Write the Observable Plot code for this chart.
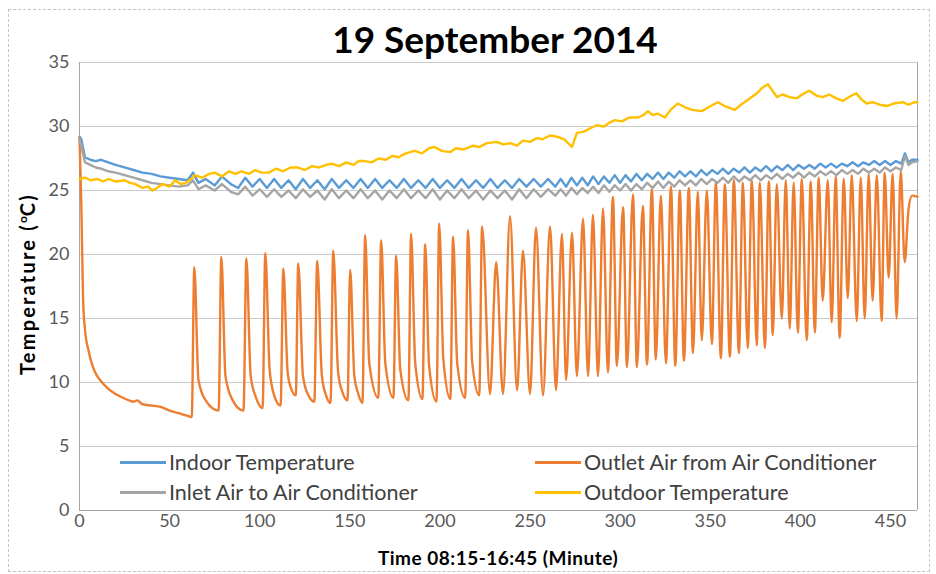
<!DOCTYPE html>
<html><head><meta charset="utf-8">
<script src="https://cdn.jsdelivr.net/npm/d3@7"></script>
<script src="https://cdn.jsdelivr.net/npm/@observablehq/plot@0.6"></script>
<style>
body{margin:0;background:#fff;}
#wrap{position:relative;width:936px;height:574px;font-family:Lato,"Open Sans",sans-serif;overflow:hidden;}
#chart{position:absolute;left:0;top:0;}
#border{position:absolute;left:8px;top:9px;width:922px;height:563px;border:1px dashed #c4c4c4;box-sizing:border-box;pointer-events:none;}
#title{position:absolute;left:495px;top:17px;transform:translateX(-50%);font-weight:700;font-size:37px;color:#000;white-space:nowrap;line-height:1.2;}
#ytitle{position:absolute;left:27px;top:284px;transform:translate(-50%,-50%) rotate(-90deg);font-weight:700;font-size:20px;letter-spacing:2.2px;white-space:nowrap;color:#000;line-height:1.2;}
#ytitle sup{font-size:12px;letter-spacing:0;}
#xtitle{position:absolute;left:498px;top:547px;transform:translateX(-50%);font-weight:700;font-size:19px;letter-spacing:0.5px;white-space:nowrap;color:#000;line-height:1.15;}
.leg{position:absolute;font-size:21.5px;color:#404040;white-space:nowrap;display:flex;align-items:center;line-height:1.2;}
.leg span.sw{display:inline-block;width:46px;height:3px;margin-right:3px;}
</style></head>
<body>
<div id="wrap">
  <div id="chart"></div>
  <div id="border"></div>
  <div id="title">19 September 2014</div>
  <div id="ytitle">Temperature (<sup>o</sup>C)</div>
  <div id="xtitle">Time 08:15-16:45 (Minute)</div>
  <div id="legend"></div>
</div>
<script>
// ---- Series names and colours ----
const seriesNames = ["Indoor Temperature", "Outlet Air from Air Conditioner", "Inlet Air to Air Conditioner", "Outdoor Temperature"];
const seriesColors = ["#5B9BD5", "#ED7D31", "#A5A5A5", "#FFC000"];

// ---- Axis ticks ----
const xTicks = [0, 50, 100, 150, 200, 250, 300, 350, 400, 450];
const yTicks = [0, 5, 10, 15, 20, 25, 30, 35];

// ---- Outlet air (orange): turning points ----
const outletTime = [
  0,1,2,3,5,7,9,12,16,20,25,30,32,35,40,45,50,55,60,62.3,
  63.7,66,70,77.2, 78.7,81,85,91, 92.6,95,98,101.6, 103.1,105.5,108,111.6,
  113.1,115.5,117.5,120, 121.4,124,127,130.3, 131.9,134.5,136.8,139.3,
  140.8,143.5,146,148.7, 150.2,152.5,154.5,157,
  158.5,160.8,165.8, 167.4,169.7,174.2, 175.7,178,182.5, 184.0,186.3,190.3,
  191.8,194,198.1, 199.6,201.9,205.8, 207.3,209.6,214, 215.6,217.9,221.8,
  223.4,227.8, 231.2,235, 238.9,242.8, 246.1,250, 253.3,257.2, 261.1,264.4,
  267.7,270, 273.3,276, 279.4,282.2, 284.9,287.7, 290.5,293.2, 296.0,298.2,
  301.6,303.8, 307.1,309.3, 312.6,314.9, 317.6,319.8, 322.6,325.4, 328.2,330.6,
  333.1,335.4, 338.1,340.4, 343.1,345.3, 348.1,350.9, 353.1,355.9, 358.1,360.9,
  363.1,365.9, 368.1,370.8, 373.1,375.8, 377.5,380.3, 382.5,384.7, 386.9,389.7,
  391.9,394.1, 396.3,398.6, 400.8,403.5, 405.8,408, 410.2,412.4, 415.2,417.4,
  419.6,421.8, 424.1,426.3, 428.5,431.3, 433.5,435.7, 437.9,440.1, 442.4,445.1,
  446.8,449, 451.2,453.4, 455.7,457.9, 460,462,465
];
const outletTemp = [
  29.1,24.0,16.4,14.2,12.5,11.4,10.7,10.1,9.5,9.1,8.75,8.5,8.6,8.3,8.2,8.1,7.8,7.6,7.4,7.3,
  19.0,10.2,8.6,7.8, 19.8,10.5,8.6,7.8, 19.7,10.5,8.8,8.0, 20.1,11.0,9.0,8.2,
  18.9,10.8,9.5,9.0, 19.3,10.5,9.0,8.5, 19.5,10.5,9.0,8.4,
  20.3,10.8,9.2,8.6, 18.8,10.5,9.2,8.4,
  21.5,11.5,8.8, 21.1,11.5,8.8, 19.9,11.0,8.6, 21.6,11.5,8.7,
  20.8,11.3,8.5, 22.4,11.8,8.7, 21.4,11.5,8.8, 21.9,11.6,9.0,
  22.2,9.1, 19.4,9.1, 23.0,9.4, 20.3,9.1, 22.1,9.0, 22.2,9.4,
  21.6,10.2, 21.7,10.5, 22.8,10.5, 23.1,10.5, 23.6,10.8, 24.5,11.3,
  23.7,11.2, 24.7,11.2, 23.8,11.4, 25.1,11.8, 24.6,11.5, 25.3,11.3,
  25.0,11.7, 25.2,12.3, 24.9,13.3, 25.0,13.0, 25.6,11.9, 25.5,12.0,
  25.8,12.3, 25.6,12.7, 25.8,12.9, 25.6,12.7, 25.7,13.7, 25.5,15.0,
  25.8,14.2, 25.6,13.9, 25.9,13.3, 25.7,13.9, 26.0,16.4, 25.8,14.7,
  26.1,13.5, 25.9,16.6, 26.2,14.8, 26.0,15.0, 26.3,16.4, 26.2,14.8,
  26.4,18.2, 26.3,15.0, 26.5,19.4, 23.5,24.6,24.5
];

// ---- Indoor (blue) and inlet (grey): shared reading times ----
const roomTime = [
  0,1,3,6,9,12,16,20,25,30,35,40,45,50,55,60,
  63,66,70,75,79,84,
  88,92,96,100,104,108,112,116,120,124,128,132,136,140,144,148,152,156,160,164,
  168,172,176,180,184,188,192,196,200,204,208,212,216,220,224,228,232,236,240,244,
  248,252,256,260,264,
  267,270,273,276,279,282,285,288,291,294,297,300,303,306,309,312,315,318,321,324,
  327,330,333,336,339,342,345,348,351,354,357,360,363,366,369,372,375,378,381,384,
  387,390,393,396,399,402,405,408,411,414,417,420,423,426,429,432,435,438,441,444,
  447,450,453,456,458,460,462,465
];
const indoorTemp = [
  29.2,29.0,27.6,27.4,27.3,27.4,27.2,27.0,26.8,26.6,26.4,26.3,26.1,26.0,25.9,25.8,
  26.4,25.6,25.9,25.4,26.1,25.5,
  25.2,26.0,25.3,25.9,25.2,25.9,25.2,25.8,25.1,25.9,25.2,25.8,25.1,25.9,25.2,25.8,25.2,25.9,25.2,25.9,
  25.2,25.8,25.2,25.9,25.2,25.8,25.2,25.9,25.2,25.8,25.2,25.9,25.2,25.8,25.2,25.9,25.2,25.8,25.2,25.9,
  25.3,25.9,25.3,25.9,25.3,
  25.9,25.3,26.0,25.4,26.0,25.4,26.1,25.5,26.1,25.6,26.2,25.6,26.2,25.7,26.3,25.8,26.3,25.9,26.4,25.9,
  26.4,26.0,26.5,26.1,26.5,26.1,26.6,26.2,26.6,26.3,26.7,26.3,26.7,26.4,26.8,26.4,26.8,26.5,26.9,26.5,
  26.9,26.6,27.0,26.6,27.0,26.7,27.0,26.7,27.1,26.8,27.1,26.8,27.1,26.9,27.2,26.9,27.2,27.0,27.3,27.0,
  27.3,27.0,27.3,27.1,27.9,27.2,27.4,27.4
];
const inletTemp = [
  29.0,28.5,27.2,27.0,26.8,26.7,26.5,26.4,26.2,26.0,25.8,25.6,25.5,25.4,25.3,25.4,
  25.8,25.1,25.4,25.0,25.5,24.9,
  24.7,25.3,24.6,25.1,24.5,25.1,24.5,25.0,24.4,25.1,24.5,25.0,24.3,25.1,24.4,25.0,24.4,25.1,24.4,25.0,
  24.3,25.0,24.4,25.1,24.4,25.0,24.4,25.1,24.3,25.0,24.4,25.1,24.4,25.0,24.3,25.0,24.4,25.0,24.3,25.1,
  24.4,25.1,24.5,25.1,24.6,
  25.1,24.6,25.2,24.7,25.2,24.8,25.3,24.8,25.4,24.9,25.4,25.0,25.5,25.0,25.5,25.1,25.6,25.2,25.7,25.2,
  25.7,25.3,25.8,25.4,25.8,25.4,25.9,25.5,25.9,25.6,26.0,25.6,26.1,25.7,26.1,25.8,26.2,25.8,26.2,25.9,
  26.3,25.9,26.3,26.0,26.4,26.0,26.4,26.1,26.5,26.2,26.5,26.2,26.6,26.3,26.6,26.3,26.7,26.4,26.7,26.4,
  26.8,26.5,26.8,26.6,27.7,27.0,27.2,27.3
];

// ---- Outdoor (yellow) ----
const outdoorTime = [
  0,3,6,10,13,16,20,25,28,31,35,38,40.5,43,46,50,53,56,59,62,64,68,72,75,79,83,86.5,90,94,97.6,
  101,105,109,113,117,121,125,129,133,137,140,144,148,152,155,158.5,162,166,170,173.5,
  177,181,186,190,194,197,201,205.7,209,213,218.4,222,226,231.7,235,239,242.8,246,250,253.9,
  257,261,265,269,273.3,276,280,284,287,291,294,297,301,305,310,313,315.4,318,321,324.8,
  328,332,336,340,345.3,349,354.2,358,363.6,367,370,373,376,378.6,382,384,387,390,394,398,
  401,405,409,412.4,416,420,423.5,427,431,434,436.8,440,444,448,452,456.8,460,463.4,465
];
const outdoorTemp = [
  25.9,26.0,25.8,25.9,25.7,25.9,25.7,25.8,25.6,25.5,25.2,25.3,25.0,25.2,25.5,25.3,25.8,25.5,25.6,25.9,26.2,26.0,26.3,26.4,26.1,26.5,26.3,26.5,26.3,26.6,
  26.4,26.4,26.7,26.5,26.8,26.8,26.6,26.9,26.8,27.0,27.1,26.9,27.2,27.0,27.3,27.3,27.2,27.5,27.4,27.7,
  27.6,27.9,28.1,27.9,28.3,28.4,28.1,28.0,28.3,28.2,28.5,28.4,28.7,28.8,28.6,28.7,28.5,28.9,28.8,29.1,
  29.0,29.3,29.2,29.0,28.4,29.5,29.6,29.9,30.1,30.0,30.3,30.5,30.4,30.7,30.7,30.9,31.2,30.9,31.0,30.7,
  31.3,31.8,31.5,31.3,31.2,31.5,31.9,31.6,31.3,31.7,32.0,32.3,32.6,33.0,33.3,32.9,32.3,32.5,32.3,32.2,
  32.5,32.8,32.4,32.3,32.5,32.2,32.0,32.3,32.6,32.1,31.8,31.9,31.7,31.6,31.8,31.9,31.7,31.9,31.9
];

const toRows = (t, v, s) => t.map((d, i) => ({t: d, v: v[i], s}));
const indoor = toRows(roomTime, indoorTemp, seriesNames[0]);
const outlet = toRows(outletTime, outletTemp, seriesNames[1]);
const inlet = toRows(roomTime, inletTemp, seriesNames[2]);
const outdoor = toRows(outdoorTime, outdoorTemp, seriesNames[3]);

const chart = Plot.plot({
  width: 936, height: 574,
  marginLeft: 79, marginRight: 19, marginTop: 62, marginBottom: 64,
  style: {fontFamily: "Lato, 'Open Sans', sans-serif", fontSize: "18px", color: "#595959", background: "transparent"},
  x: {domain: [0, 465], ticks: xTicks, tickSize: 0, tickPadding: 4, label: null},
  y: {domain: [0, 35], ticks: yTicks, tickSize: 0, tickPadding: 10, label: null},
  color: {domain: seriesNames, range: seriesColors},
  marks: [
    Plot.gridY(yTicks, {stroke: "#c9c9c9", strokeOpacity: 1, strokeWidth: 1}),
    Plot.ruleX([465], {stroke: "#a6a6a6"}),
    Plot.ruleX([0], {stroke: "#a6a6a6"}),
    Plot.ruleY([0], {stroke: "#a6a6a6"}),
    Plot.line(indoor, {x: "t", y: "v", stroke: "s", strokeWidth: 2.4}),
    Plot.line(outlet, {x: "t", y: "v", stroke: "s", strokeWidth: 2.4, curve: "monotone-x"}),
    Plot.line(inlet, {x: "t", y: "v", stroke: "s", strokeWidth: 2.4}),
    Plot.line(outdoor, {x: "t", y: "v", stroke: "s", strokeWidth: 2.4}),
    Plot.axisX(xTicks, {tickSize: 0, tickPadding: 4, fill: "#595959", fontSize: 18}),
    Plot.axisY(yTicks, {tickSize: 0, tickPadding: 10, fill: "#595959", fontSize: 18})
  ]
});
document.getElementById("chart").appendChild(chart);

// ---- Legend (inside plot, bottom) ----
const legendPos = [[120, 450], [535, 450], [120, 480], [535, 480]];
const leg = document.getElementById("legend");
seriesNames.forEach((name, i) => {
  const d = document.createElement("div");
  d.className = "leg";
  d.style.left = legendPos[i][0] + "px";
  d.style.top = legendPos[i][1] + "px";
  const sw = document.createElement("span");
  sw.className = "sw";
  sw.style.background = seriesColors[i];
  d.appendChild(sw);
  d.appendChild(document.createTextNode(name));
  leg.appendChild(d);
});
</script>
</body></html>
